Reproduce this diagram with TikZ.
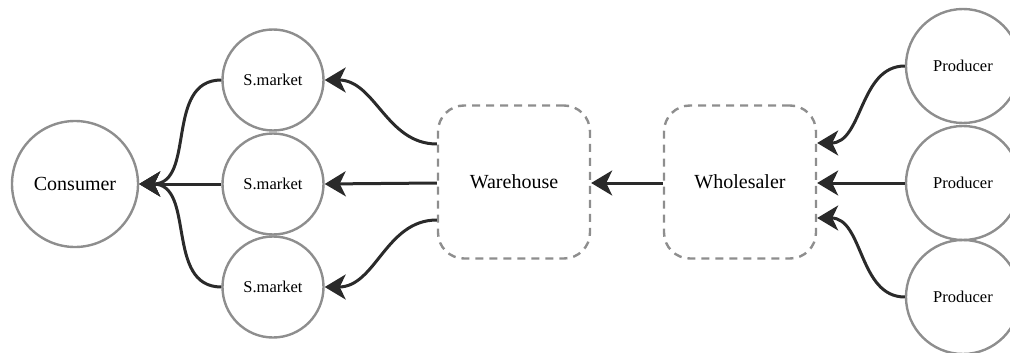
\documentclass[tikz,border=0pt]{standalone}
\usepackage{fontspec}
\setmainfont{Liberation Serif}
\usetikzlibrary{arrows.meta,calc}
\definecolor{ringgray}{HTML}{8E8E8E}
\definecolor{arrowdark}{HTML}{2A2A2A}
\begin{document}
\begin{tikzpicture}[x=1pt,y=-1pt,
  ring/.style={circle,draw=ringgray,line width=2.4pt,inner sep=0pt},
  bigring/.style={ring,minimum size=126pt,font=\fontsize{20}{23}\selectfont},
  midring/.style={ring,minimum size=101pt,font=\fontsize{16.5}{19}\selectfont},
  prodring/.style={ring,minimum size=114pt,font=\fontsize{16.5}{19}\selectfont},
  dashbox/.style={draw=ringgray,line width=2.4pt,dash pattern=on 8pt off 6pt,rounded corners=26pt,minimum width=152pt,minimum height=153pt,font=\fontsize{20}{23}\selectfont},
  flow/.style={draw=arrowdark,line width=3pt,-{Stealth[length=21pt,width=25pt,inset=6pt]}}]
\useasboundingbox (0,0) rectangle (1010,353);
\node[bigring] (cons) at (75,184) {Consumer};
\node[midring] (sm1) at (273,80) {S.market};
\node[midring] (sm2) at (273,184) {S.market};
\node[midring] (sm3) at (273,287) {S.market};
\node[dashbox] (wh) at (514,182) {Warehouse};
\node[dashbox] (ws) at (740,182) {Wholesaler};
\node[prodring] (p1) at (963,66) {Producer};
\node[prodring] (p2) at (963,183) {Producer};
\node[prodring] (p3) at (963,297) {Producer};
% supermarkets to consumer
\draw[flow] (sm1.west) to[out=180,in=0,looseness=1.1] (cons.east);
\draw[flow] (sm2.west) -- (cons.east);
\draw[flow] (sm3.west) to[out=180,in=0,looseness=1.1] (cons.east);
% warehouse to supermarkets
\draw[flow] ([yshift=38pt]wh.west) to[out=180,in=0] (sm1.east);
\draw[flow] ([yshift=-1pt]wh.west) -- (sm2.east);
\draw[flow] ([yshift=-38pt]wh.west) to[out=180,in=0] (sm3.east);
% wholesaler to warehouse
\draw[flow] ([yshift=-1pt]ws.west) -- ([yshift=-1pt]wh.east);
% producers to wholesaler
\draw[flow] (p1.west) to[out=180,in=0] ([yshift=39pt]ws.east);
\draw[flow] (p2.west) -- ([yshift=-1pt]ws.east);
\draw[flow] (p3.west) to[out=180,in=0] ([yshift=-36pt]ws.east);
\end{tikzpicture}
\end{document}
